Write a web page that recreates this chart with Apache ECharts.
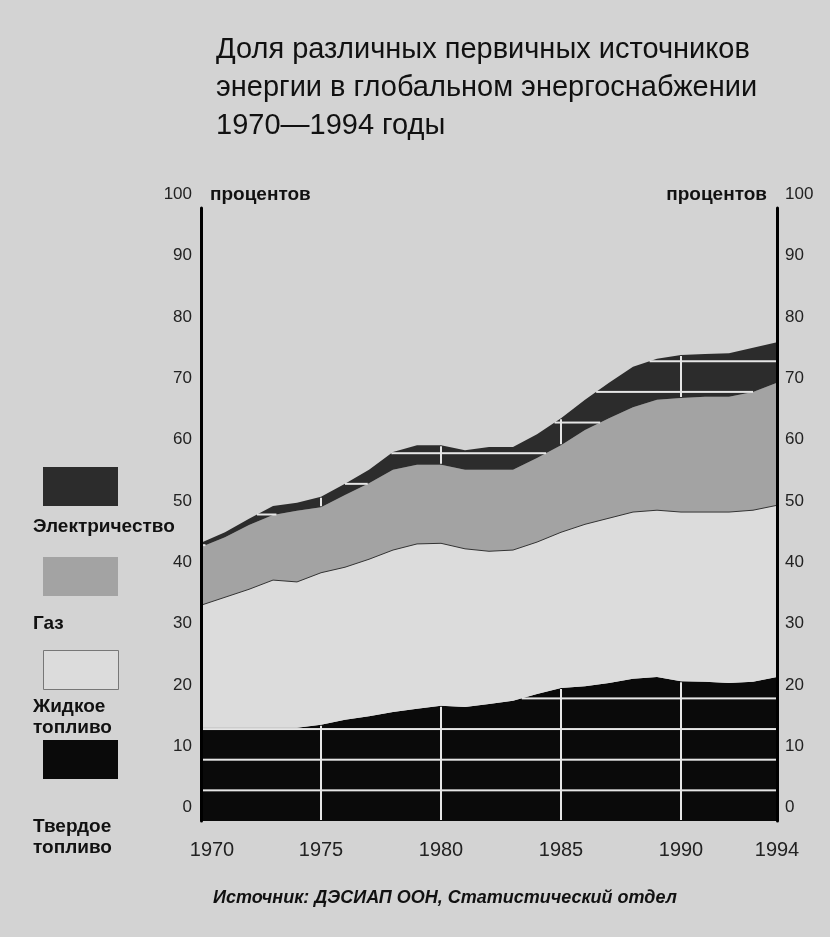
<!DOCTYPE html>
<html>
<head>
<meta charset="utf-8">
<script src="https://cdn.jsdelivr.net/npm/echarts@6/dist/echarts.min.js"></script>
<style>
    html, body { margin:0; padding:0; background:#d3d3d3; }
    #chart { width:830px; height:937px; }
</style>
</head>
<body>
<div id="chart"></div>
<script>
// годы и доли (в процентах)
var years = ['1970','1971','1972','1973','1974','1975','1976','1977','1978','1979','1980','1981',
    '1982','1983','1984','1985','1986','1987','1988','1989','1990','1991','1992','1993','1994'];
var solidFuel  = [15.2,15.2,15.2,15.2,15.2,15.7,16.5,17.1,17.8,18.3,18.8,18.6,19.1,19.6,20.7,21.7,22.0,22.5,23.2,23.5,22.8,22.7,22.5,22.7,23.5];
var liquidFuel = [20.0,21.3,22.6,24.1,23.8,24.8,24.9,25.6,26.4,26.9,26.5,25.8,24.9,24.6,24.8,25.4,26.4,26.9,27.2,27.2,27.6,27.7,27.9,28.0,28.0];
var gas        = [9.5,9.8,10.5,10.6,11.6,10.7,11.8,12.4,13.1,12.9,12.8,12.9,13.3,13.1,13.7,14.2,15.4,16.3,17.1,18.0,18.6,18.8,18.8,19.3,20.0];
var electricity= [0.7,0.8,1.0,1.5,1.3,1.7,1.8,2.2,2.9,3.2,3.2,3.2,3.7,3.7,3.9,4.4,4.9,5.8,6.6,6.7,7.0,7.0,7.1,7.2,6.6];
var seriesNames = ['Твердое топливо','Жидкое топливо','Газ','Электричество'];
var gridStep = 5;          // светлые линии сетки видны только на тёмных полосах
var gridYears = [5, 10, 15, 20];   // индексы 1975, 1980, 1985, 1990

var bg = '#d3d3d3';
var colors = { solid:'#0a0a0a', liquid:'#dcdcdc', gas:'#a3a3a3', elec:'#2c2c2c' };

// границы тёмных полос (нижняя и верхняя) для каждого года
var gasTop = [], total = [];
for (var i = 0; i < years.length; i++) {
    gasTop.push(solidFuel[i] + liquidFuel[i] + gas[i]);
    total.push(gasTop[i] + electricity[i]);
}
var darkBands = [
    { lo: years.map(function(){ return 0; }), hi: solidFuel },
    { lo: gasTop, hi: total }
];

// участки [t0,t1] на отрезке i..i+1, где уровень v лежит внутри полосы
function coverRange(band, i, v) {
    var t0 = 0, t1 = 1;
    function clip(a, b, above) {
        // требуем a+(b-a)t >= v (above) или <= v
        var d = b - a;
        if (Math.abs(d) < 1e-9) {
            if (above ? a < v : a > v) { t0 = 1; t1 = 0; }
            return;
        }
        var t = (v - a) / d;
        if ((d > 0) === above) t0 = Math.max(t0, t); else t1 = Math.min(t1, t);
    }
    clip(band.hi[i], band.hi[i + 1], true);
    clip(band.lo[i], band.lo[i + 1], false);
    return t1 > t0 ? [t0, t1] : null;
}

function renderGridLines(params, api) {
    var children = [];
    var style = { stroke:'#e6e6e6', lineWidth:2 };
    darkBands.forEach(function(band){
        for (var v = gridStep; v < 100; v += gridStep) {
            for (var i = 0; i < years.length - 1; i++) {
                var r = coverRange(band, i, v);
                if (!r) continue;
                var a = api.coord([i, v]), b = api.coord([i + 1, v]);
                children.push({ type:'line', shape:{
                    x1: a[0] + (b[0] - a[0]) * r[0], y1: a[1],
                    x2: a[0] + (b[0] - a[0]) * r[1], y2: a[1] }, style: style });
            }
        }
        gridYears.forEach(function(k){
            var p = api.coord([k, band.lo[k]]), q = api.coord([k, band.hi[k]]);
            children.push({ type:'line', shape:{ x1:p[0], y1:p[1] - 1, x2:q[0], y2:q[1] + 1 }, style: style });
        });
    });
    return { type:'group', children: children };
}

var chart = echarts.init(document.getElementById('chart'));

function legendItem(y, color, lines, labelY, border){
    var items = [{
        type:'rect', left:43, top:y,
        shape:{ width:75, height:39 },
        style:{ fill:color, stroke: border ? '#777' : null, lineWidth: border ? 1 : 0 }
    }];
    lines.forEach(function(t, i){
        items.push({
            type:'text', left:33, top:labelY + i*21,
            style:{ text:t, fill:'#111', font:'bold 19px "Liberation Sans", Arial, sans-serif' }
        });
    });
    return items;
}

var option = {
    backgroundColor: bg,
    animation: false,
    title: {
        text: 'Доля различных первичных источников\nэнергии в глобальном энергоснабжении\n1970—1994 годы',
        left: 211, top: 26,
        textStyle: { fontSize:29, lineHeight:38, fontWeight:'normal', color:'#111',
            fontFamily:'"Liberation Sans", Arial, sans-serif' }
    },
    grid: { left:201, right:53, top:208, bottom:116 },
    xAxis: {
        type:'category', data: years, boundaryGap:false, z:5,
        axisLine:{ show:false }, axisTick:{ show:false },
        axisLabel:{
            interval: function(i){ return i % 5 === 0 || i === years.length - 1; },
            fontSize:20, margin:19, color:'#222', fontFamily:'"Liberation Sans", Arial, sans-serif',
            formatter: function(v, i){ return i === 0 ? '{first|' + v + '}' : v; },
            rich:{ first:{ fontSize:20, color:'#222', padding:[0,0,0,22] } }
        },
        splitLine:{ show:false }
    },
    yAxis: [
        {
            type:'value', min:0, max:100, interval:10, z:5,
            axisLine:{ show:true, lineStyle:{ color:'#000', width:3 } },
            axisTick:{ show:false },
            axisLabel:{ fontSize:17, color:'#222', margin:9, verticalAlign:'bottom', padding:[0,0,5,0],
                fontFamily:'"Liberation Sans", Arial, sans-serif' },
            splitLine:{ show:false }
        },
        {
            type:'value', min:0, max:100, interval:10, position:'right', z:5,
            axisLine:{ show:true, lineStyle:{ color:'#000', width:3 } },
            axisTick:{ show:false },
            axisLabel:{ fontSize:17, color:'#222', margin:8, verticalAlign:'bottom', padding:[0,0,5,0],
                fontFamily:'"Liberation Sans", Arial, sans-serif' },
            splitLine:{ show:false }
        }
    ],
    series: [
        { name:seriesNames[0], type:'line', stack:'all', symbol:'none', data:solidFuel,
          lineStyle:{ width:0 }, areaStyle:{ color:colors.solid, opacity:1 } },
        { name:seriesNames[1], type:'line', stack:'all', symbol:'none', data:liquidFuel,
          lineStyle:{ width:1, color:'#333' }, areaStyle:{ color:colors.liquid, opacity:1 } },
        { name:seriesNames[2], type:'line', stack:'all', symbol:'none', data:gas,
          lineStyle:{ width:0 }, areaStyle:{ color:colors.gas, opacity:1 } },
        { name:seriesNames[3], type:'line', stack:'all', symbol:'none', data:electricity,
          lineStyle:{ width:0 }, areaStyle:{ color:colors.elec, opacity:1 } },
        { type:'custom', data:[[0, 0]], renderItem: renderGridLines, z:4, silent:true }
    ],
    graphic: [].concat(
        [
            { type:'text', left:210, top:185,
              style:{ text:'процентов', fill:'#111', font:'bold 19px "Liberation Sans", Arial, sans-serif' } },
            { type:'text', right:63, top:185,
              style:{ text:'процентов', fill:'#111', font:'bold 19px "Liberation Sans", Arial, sans-serif' } },
            { type:'text', left:213, top:889,
              style:{ text:'Источник: ДЭСИАП ООН, Статистический отдел', fill:'#111',
                      font:'italic bold 18px "Liberation Sans", Arial, sans-serif' } }
        ],
        legendItem(467, colors.elec, ['Электричество'], 517),
        legendItem(557, colors.gas, ['Газ'], 614),
        legendItem(650, colors.liquid, ['Жидкое', 'топливо'], 697, true),
        legendItem(740, colors.solid, ['Твердое', 'топливо'], 817)
    )
};
chart.setOption(option);
</script>
</body>
</html>
